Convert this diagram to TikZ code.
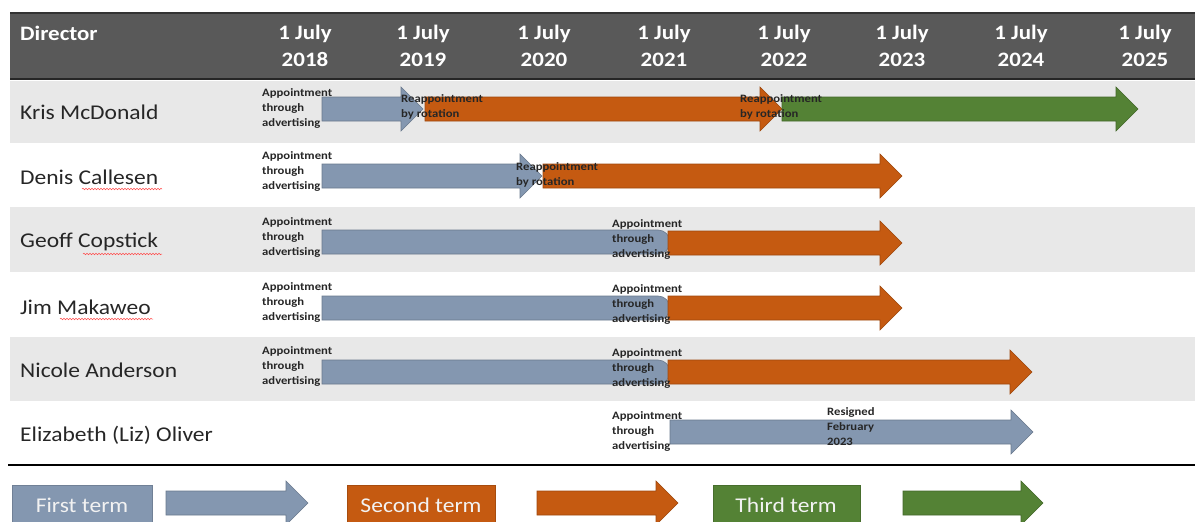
\documentclass[tikz,border=0pt]{standalone}
\usepackage{fontspec}
\setmainfont{Carlito}[FakeStretch=1.12]
\usetikzlibrary{decorations.pathmorphing}
\definecolor{hdr}{HTML}{595959}
\definecolor{rowgray}{HTML}{E8E8E8}
\definecolor{tblue}{HTML}{8497B0}
\definecolor{torange}{HTML}{C55A11}
\definecolor{tgreen}{HTML}{548235}
\definecolor{ink}{HTML}{262626}
\newcommand{\tarrow}[4]{%
  \draw[draw=#1!80!black,fill=#1,line width=0.6pt]
    (#2,#4-12) -- (#3-22,#4-12) -- (#3-22,#4-22) -- (#3,#4) --
    (#3-22,#4+22) -- (#3-22,#4+12) -- (#2,#4+12) -- cycle;}
\newcommand{\rarrow}[4]{%
  \draw[draw=#1!80!black,fill=#1,line width=0.6pt]
    (#2,#4-12) -- (#3-12,#4-12) arc[start angle=-90,end angle=90,radius=12] -- (#2,#4+12) -- cycle;}
\tikzset{
  hdrtext/.style={text=white,font=\bfseries\fontsize{20.5}{27}\selectfont,inner sep=0pt},
  yeartext/.style={hdrtext,align=center},
  nametext/.style={text=ink,font=\fontsize{21}{24}\selectfont,anchor=west,inner sep=0pt},
  lbl/.style={text=black!85,font=\bfseries\fontsize{11.3}{15}\selectfont,align=left,anchor=north west,inner sep=0pt},
  legbox/.style={fill=#1,draw=#1!85!black,line width=0.6pt},
  legtext/.style={text=white!95!black,font=\fontsize{21}{22}\selectfont,inner sep=0pt},
  squiggle/.style={draw=red!70!white,line width=0.5pt,decorate,decoration={snake,amplitude=0.8pt,segment length=3pt}}
}
\begin{document}
\begin{tikzpicture}[x=1pt,y=-1pt]
\useasboundingbox (0,0) rectangle (1195,522);
% header band
\fill[hdr] (10,13) rectangle (1195,79);
\draw[black!80,line width=1.5pt] (10,13) -- (1195,13);
\draw[black!85,line width=1.8pt] (10,79) -- (1195,79);
% row bands
\fill[rowgray] (10,81) rectangle (1195,143);
\fill[rowgray] (10,207) rectangle (1195,272);
\fill[rowgray] (10,337) rectangle (1195,401);
% header texts
\node[hdrtext,anchor=west] (hdir) at (20,33) {Director};
\node[yeartext] (y18) at (305,46) {1 July\\2018};
\node[yeartext] (y19) at (423,46) {1 July\\2019};
\node[yeartext] (y20) at (544,46) {1 July\\2020};
\node[yeartext] (y21) at (664,46) {1 July\\2021};
\node[yeartext] (y22) at (784,46) {1 July\\2022};
\node[yeartext] (y23) at (902,46) {1 July\\2023};
\node[yeartext] (y24) at (1021,46) {1 July\\2024};
\node[yeartext] (y25) at (1145,46) {1 July\\2025};
% names
\node[nametext] (n1) at (20,112) {Kris McDonald};
\node[nametext] (n2) at (20,177) {Denis Callesen};
\node[nametext] (n3) at (20,242) {Geoff Copstick};
\node[nametext] (n4) at (20,307) {Jim Makaweo};
\node[nametext] (n5) at (20,370) {Nicole Anderson};
\node[nametext] (n6) at (20,435) {Elizabeth (Liz) Oliver};
\draw[squiggle] (82,189) -- (162,189);
\draw[squiggle] (83,254) -- (162,254);
\draw[squiggle] (60,319) -- (153,319);
% arrows
\tarrow{tblue}{322}{423}{109}
\tarrow{torange}{425}{782}{109}
\tarrow{tgreen}{782}{1138}{109}
\tarrow{tblue}{322}{542}{176}
\tarrow{torange}{543}{902}{176}
\rarrow{tblue}{322}{670}{242}
\tarrow{torange}{668}{902}{243}
\rarrow{tblue}{322}{670}{308}
\tarrow{torange}{668}{902}{308}
\rarrow{tblue}{322}{670}{372}
\tarrow{torange}{668}{1032}{372}
\tarrow{tblue}{670}{1033}{432}
% labels
\node[lbl] (l1a) at (262,88) {Appointment\\through\\advertising};
\node[lbl] (l1b) at (401,94) {Reappointment\\by rotation};
\node[lbl] (l1c) at (740,94) {Reappointment\\by rotation};
\node[lbl] (l2a) at (262,151) {Appointment\\through\\advertising};
\node[lbl] (l2b) at (516,162) {Reappointment\\by rotation};
\node[lbl] (l3a) at (262,217) {Appointment\\through\\advertising};
\node[lbl] (l3b) at (612,219) {Appointment\\through\\advertising};
\node[lbl] (l4a) at (262,282) {Appointment\\through\\advertising};
\node[lbl] (l4b) at (612,284) {Appointment\\through\\advertising};
\node[lbl] (l5a) at (262,346) {Appointment\\through\\advertising};
\node[lbl] (l5b) at (612,348) {Appointment\\through\\advertising};
\node[lbl] (l6a) at (612,411) {Appointment\\through\\advertising};
\node[lbl] (l6b) at (827,407) {Resigned\\February\\2023};
% bottom rule
\draw[black,line width=2.4pt] (8,465) -- (1195,465);
% legend
\draw[legbox=tblue] (12,485) rectangle (152,523);
\node[legtext] (lg1) at (82,505) {First term};
\tarrow{tblue}{166}{308}{503}
\draw[legbox=torange] (347,485) rectangle (495,523);
\node[legtext] (lg2) at (421,505) {Second term};
\tarrow{torange}{537}{678}{503}
\draw[legbox=tgreen] (713,485) rectangle (860,523);
\node[legtext] (lg3) at (786,505) {Third term};
\tarrow{tgreen}{903}{1043}{503}
\end{tikzpicture}
\end{document}
